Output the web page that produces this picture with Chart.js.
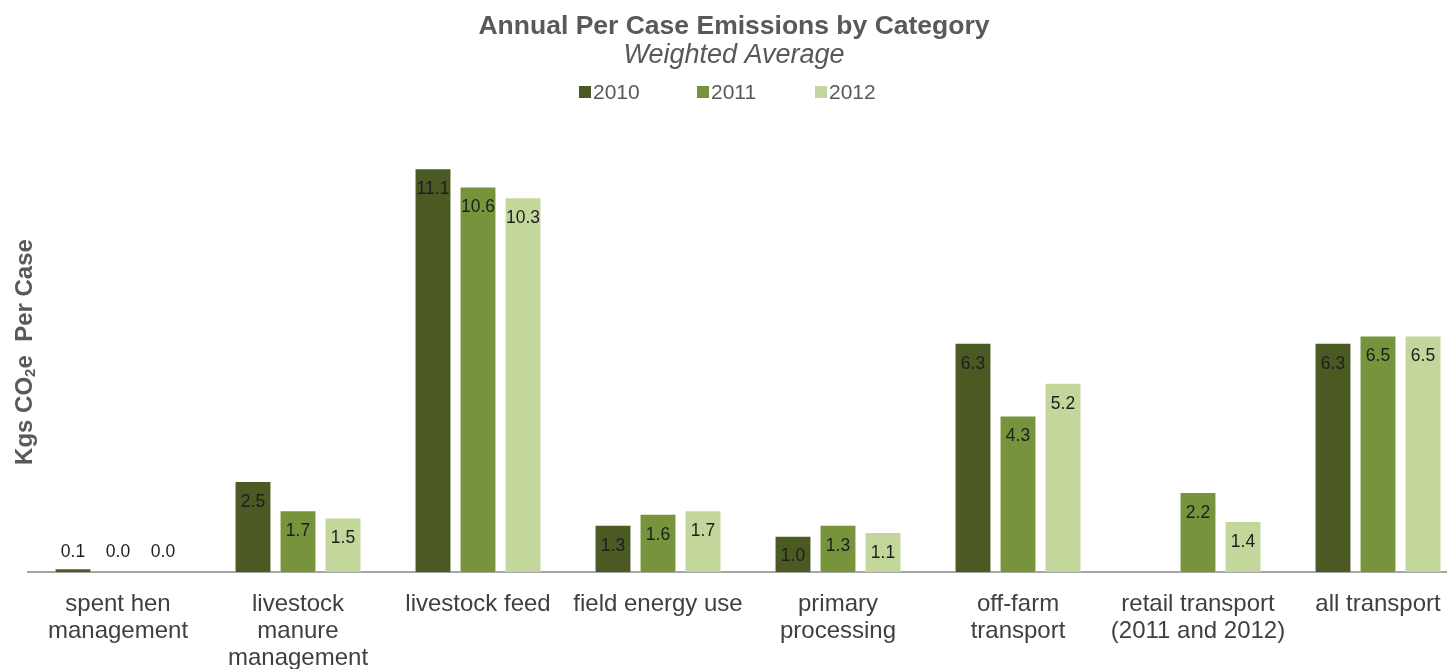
<!DOCTYPE html>
<html>
<head>
<meta charset="utf-8">
<title>Annual Per Case Emissions by Category</title>
<script src="https://cdn.jsdelivr.net/npm/chart.js@4.4.0/dist/chart.umd.min.js"></script>
<style>
  html, body { margin: 0; padding: 0; background: #fff; overflow: hidden; }
  #wrap { width: 1470px; height: 691px; }
</style>
</head>
<body>
<div id="wrap"><canvas id="chartEmissions" width="1470" height="691"></canvas></div>
<script>
    // DATA
    const categories = [
      ['spent hen', 'management'],
      ['livestock', 'manure', 'management'],
      'livestock feed',
      'field energy use',
      ['primary', 'processing'],
      ['off-farm', 'transport'],
      ['retail transport', '(2011 and 2012)'],
      'all transport'
    ];
    const years = ['2010', '2011', '2012'];
    const values2010 = [0.1, 2.5, 11.1, 1.3, 1.0, 6.3, null, 6.3];
    const values2011 = [0.0, 1.7, 10.6, 1.6, 1.3, 4.3, 2.2, 6.5];
    const values2012 = [0.0, 1.5, 10.3, 1.7, 1.1, 5.2, 1.4, 6.5];
    const barColors = ['#4b5a22', '#77933c', '#c3d69b'];

    const FONT = "'Liberation Sans', Arial, sans-serif";
    const GREY = '#595959';

    // value labels, just inside the top of each bar (above it when the bar is too short)
    const barValues = {
      id: 'barValues',
      afterDatasetsDraw(chart) {
        const ctx = chart.ctx;
        ctx.save();
        ctx.font = '17.5px ' + FONT;
        ctx.fillStyle = '#1e1e1e';
        ctx.textAlign = 'center';
        ctx.textBaseline = 'middle';
        chart.data.datasets.forEach((ds, i) => {
          chart.getDatasetMeta(i).data.forEach((bar, j) => {
            const v = ds.data[j];
            if (v === null || v === undefined) return;
            const h = bar.base - bar.y;
            const y = h > 30 ? bar.y + 21 : bar.base - 20;
            ctx.fillText(v.toFixed(1), bar.x, y);
          });
        });
        ctx.restore();
      }
    };

    // legend row and rotated y title with the subscript 2
    const extras = {
      id: 'extras',
      afterDraw(chart) {
        const ctx = chart.ctx;
        ctx.save();

        // legend
        ctx.font = '21px ' + FONT;
        ctx.textBaseline = 'middle';
        const step = 118;
        let x = 579;
        years.forEach((yr, i) => {
          ctx.fillStyle = barColors[i];
          ctx.fillRect(x, 86, 12, 12);
          ctx.fillStyle = GREY;
          ctx.fillText(yr, x + 14, 93);
          x += step;
        });

        // y axis title
        ctx.translate(25, 352);
        ctx.rotate(-Math.PI / 2);
        const big = 'bold 24px ' + FONT;
        const small = 'bold 15px ' + FONT;
        const parts = [['Kgs CO', big, 0], ['2', small, 6], ['e  Per Case', big, 0]];
        let total = 0;
        parts.forEach(p => { ctx.font = p[1]; total += ctx.measureText(p[0]).width; });
        let tx = -total / 2;
        ctx.fillStyle = GREY;
        ctx.textBaseline = 'middle';
        parts.forEach(p => {
          ctx.font = p[1];
          ctx.fillText(p[0], tx, p[2]);
          tx += ctx.measureText(p[0]).width;
        });
        ctx.restore();
      }
    };

    new Chart(document.getElementById('chartEmissions'), {
      type: 'bar',
      data: {
        labels: categories,
        datasets: [values2010, values2011, values2012].map((vals, i) => ({
          label: years[i],
          data: vals,
          backgroundColor: barColors[i],
          borderColor: 'rgba(255,255,255,0.55)',
          borderWidth: 1,
          categoryPercentage: 0.75,
          barPercentage: 0.82
        }))
      },
      options: {
        responsive: false,
        animation: false,
        layout: { padding: { left: 0, right: 2, top: 0, bottom: 0 } },
        plugins: {
          legend: { display: false },
          tooltip: { enabled: false },
          title: {
            display: true,
            text: 'Annual Per Case Emissions by Category',
            color: GREY,
            font: { family: FONT, size: 26.5, weight: 'bold', lineHeight: 1 },
            padding: { top: 13, bottom: 0 }
          },
          subtitle: {
            display: true,
            text: 'Weighted Average',
            color: GREY,
            font: { family: FONT, size: 27, style: 'italic', lineHeight: 1 },
            padding: { top: 2, bottom: 67 }
          }
        },
        scales: {
          x: {
            grid: { display: false, drawTicks: false },
            border: { display: true, color: '#a6a6a6', width: 2 },
            ticks: {
              color: '#404040',
              padding: 19,
              maxRotation: 0,
              autoSkip: false,
              font: { family: FONT, size: 24, lineHeight: 1.125 }
            }
          },
          y: {
            min: 0,
            max: 12,
            grid: { display: false },
            border: { display: false },
            ticks: { display: false },
            // keeps room on the left for the rotated axis title drawn by hand
            afterFit(scale) { scale.width = 28; }
          }
        }
      },
      plugins: [barValues, extras]
    });
</script>
</body>
</html>
